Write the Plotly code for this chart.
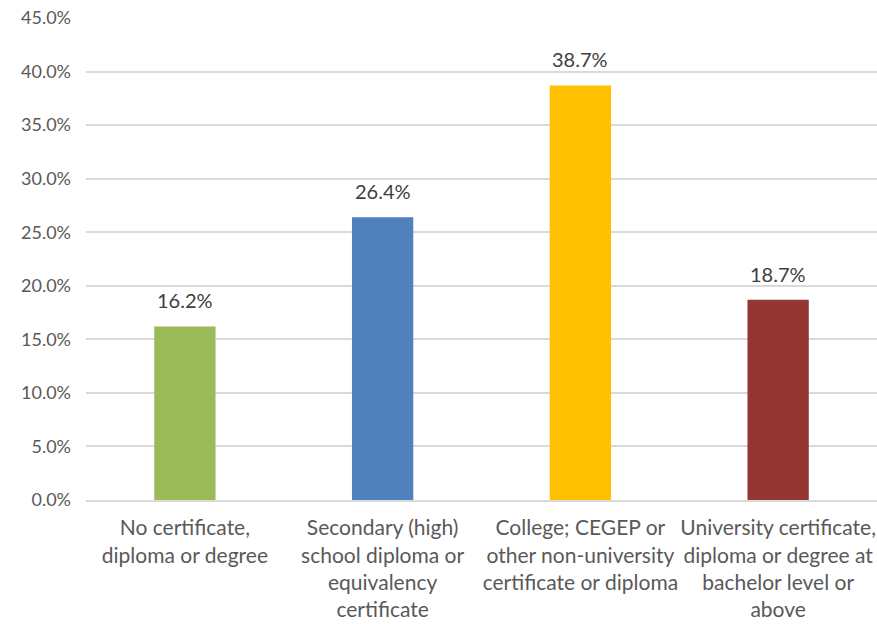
import plotly.graph_objects as go

categories = [
    "No certificate,<br>diploma or degree",
    "Secondary (high)<br>school diploma or<br>equivalency<br>certificate",
    "College; CEGEP or<br>other non-university<br>certificate or diploma",
    "University certificate,<br>diploma or degree at<br>bachelor level or<br>above",
]
values = [16.2, 26.4, 38.7, 18.7]
colors = ["#9BBB59", "#4F81BD", "#FFC000", "#943634"]
yticks = [0, 5, 10, 15, 20, 25, 30, 35, 40, 45]

font = "Lato, sans-serif"
fig = go.Figure(go.Bar(
    x=categories, y=values,
    marker=dict(color=colors, line=dict(width=0)),
    width=0.31,
    cliponaxis=False,
))
for c, v in zip(categories, values):
    fig.add_annotation(x=c, y=v, text=f"{v:.1f}%", showarrow=False,
                       yanchor="bottom", yshift=12,
                       font=dict(family=font, size=20, color="#404040"))
fig.update_layout(
    width=877, height=624,
    margin=dict(l=86, r=0, t=18, b=124),
    plot_bgcolor="white", paper_bgcolor="white",
    font=dict(family=font, size=20, color="#595959"),
    showlegend=False,
    xaxis=dict(showgrid=False, showline=True, linecolor="#D9D9D9", linewidth=2,
               ticks="", ticklabelstandoff=8, tickfont=dict(family=font, size=21, color="#595959")),
    yaxis=dict(range=[0, 45], tickvals=yticks, ticktext=[f"{t:.1f}%" for t in yticks],
               showgrid=True, gridcolor="#D9D9D9", gridwidth=1.5, zeroline=False,
               showline=False, ticks="", ticklabelstandoff=14,
               tickfont=dict(family=font, size=18, color="#595959")),
)
fig.write_html("out.html")
